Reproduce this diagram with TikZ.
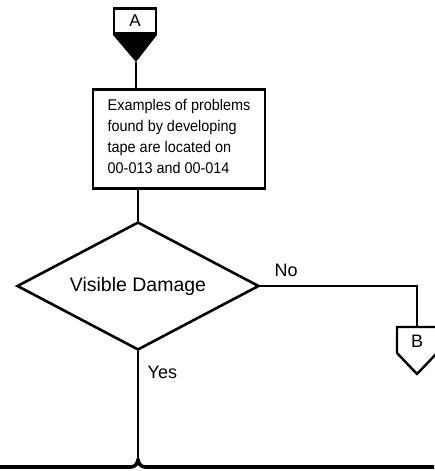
\documentclass[tikz,border=0pt]{standalone}
\usepackage{fontspec}
\setmainfont{Liberation Sans}
\newfontfamily\narrowfont[FakeStretch=0.93]{Liberation Sans}
\usetikzlibrary{shapes.geometric}
\begin{document}
\begin{tikzpicture}[x=1pt,y=-1pt, line width=2.6pt,
  txt/.style={font=\fontsize{18}{21}\selectfont},
  boxtxt/.style={font=\narrowfont\fontsize{15.5}{21}\selectfont},
  conn/.style={draw, line width=2.4pt, minimum width=42pt, minimum height=25pt, inner sep=0pt, font=\fontsize{17}{18}\selectfont},
  procbox/.style={draw, minimum width=172pt, minimum height=99pt, inner sep=0pt},
  decision/.style={diamond, draw, minimum width=242pt, minimum height=128pt, inner sep=0pt}]
\useasboundingbox (0,0) rectangle (434,471);
% connector A
\node[conn] (A) at (135,21) {A};
\fill (A.south west) -- (A.south east) -- (136,62) coordinate (Atip) -- cycle;
% process box
\node[procbox] (box) at (179,139) {};
\node[boxtxt, align=left, inner sep=0pt] (boxtext) at (179,136) {Examples of problems\\found by developing\\tape are located on\\00-013 and 00-014};
\draw (Atip) -- (Atip |- box.north);
% decision
\node[decision] (d) at (138,286) {};
\node[font=\fontsize{19.5}{21}\selectfont] (dtext) at (d.center) {Visible Damage};
\draw (d.north |- box.south) -- (d.north);
% connector B
\coordinate (Btop) at (417,327);
\draw[line width=2.4pt, line join=miter] (397,353) -- (397,327) -- (437,327) -- (437,353) -- (417,374) -- cycle;
\node[txt] (B) at (417,341) {B};
\draw (d.east) -| (Btop);
\node[txt, anchor=south west] (no) at (270,281) {No};
\node[txt, anchor=north west] (yes) at (143,361) {Yes};
% bottom line
\coordinate (J) at (138,459);
\draw (d.south) -- (J);
\draw[line width=3.6pt] (0,467) -- (131,467) to[out=0,in=-90] (J);
\draw[line width=3.6pt] (434,467) -- (145,467) to[out=180,in=-90] (J);
\end{tikzpicture}
\end{document}
